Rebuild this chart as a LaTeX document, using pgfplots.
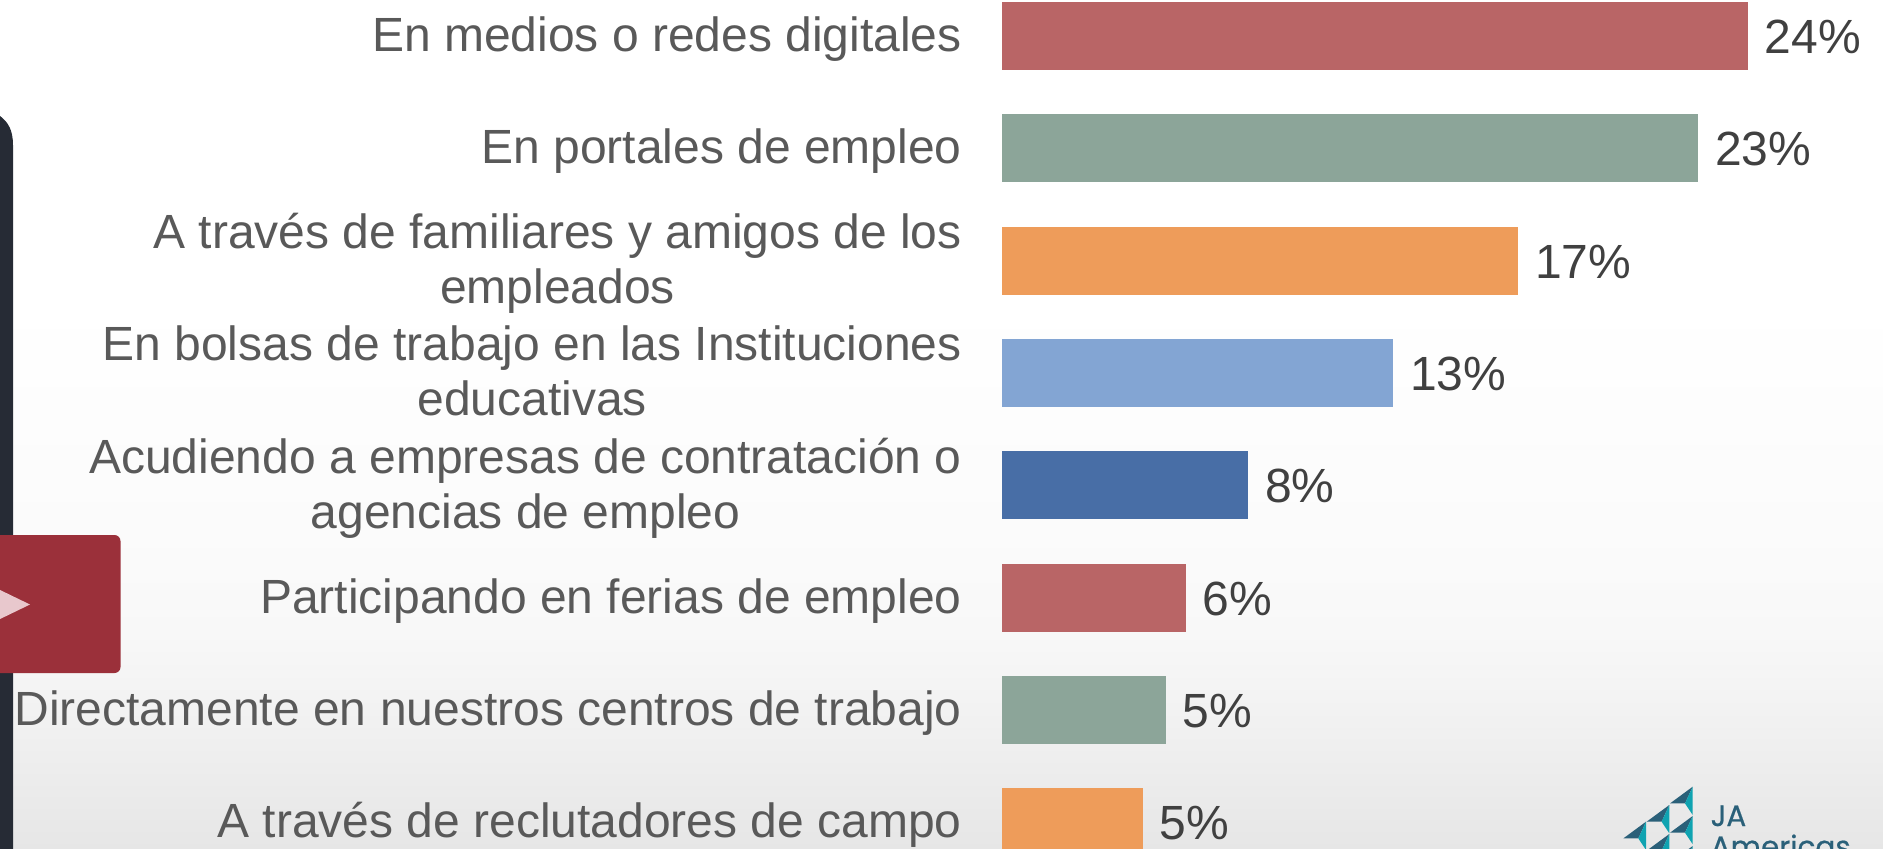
\documentclass[border=0pt]{standalone}
\usepackage{pgfplots}
\pgfplotsset{compat=1.18}
\usepackage{fontspec}
\setmainfont{Liberation Sans}
\newfontfamily\logofont[FakeBold=0.6]{Poppins}
\definecolor{labelgray}{HTML}{595959}
\definecolor{valgray}{HTML}{404040}
\definecolor{cred}{HTML}{B96566}
\definecolor{cgreen}{HTML}{8CA599}
\definecolor{corange}{HTML}{EE9C5A}
\definecolor{clblue}{HTML}{83A5D3}
\definecolor{cdblue}{HTML}{486EA6}
\definecolor{panel}{HTML}{262B35}
\definecolor{boxred}{HTML}{9B303A}
\definecolor{tipc}{HTML}{E8C8CD}
\definecolor{logod}{HTML}{2A6079}
\definecolor{logot}{HTML}{0FA3B1}
\definecolor{bga}{HTML}{FFFFFF}
\definecolor{bgb}{HTML}{FBFBFB}
\definecolor{bgc}{HTML}{F8F8F8}
\definecolor{bgd}{HTML}{F0F0F0}
\definecolor{bge}{HTML}{E6E6E6}
\newcommand\tri[2]{%
 \fill[logod] (#1-22.7,#2+16.7)--(#1,#2)--(#1-7.7,#2+16.7)--cycle;
 \fill[logot] (#1,#2)--(#1,#2+28.3)--(#1-7.7,#2+16.7)--cycle;}
\begin{document}
\begin{tikzpicture}[x=1pt,y=-1pt]
\path[use as bounding box] (0,0) rectangle (1883,849);
\clip (0,0) rectangle (1883,849);
\fill[white] (0,0) rectangle (1883,301);
\shade[top color=bga,bottom color=bgb] (0,300) rectangle (1883,531);
\shade[top color=bgb,bottom color=bgc] (0,530) rectangle (1883,634);
\shade[top color=bgc,bottom color=bgd] (0,633) rectangle (1883,734);
\shade[top color=bgd,bottom color=bge] (0,733) rectangle (1883,849);
\fill[panel] (-20,114) -- (0,116) .. controls (8,122) and (13,130) .. (13,145) -- (13,860) -- (-20,860) -- cycle;
\fill[boxred,rounded corners=6pt] (-30,535) rectangle (120.5,673);
\fill[tipc] (-2,589) -- (30,604.5) -- (-2,620) -- cycle;
\tri{1692.7}{786.7}\tri{1669.3}{805}\tri{1646}{821.7}\tri{1692.7}{816}\tri{1669.3}{834}\tri{1692.7}{846}
\node[anchor=base west,inner sep=0pt,text=logod,font=\logofont\fontsize{29.5}{30}\selectfont] at (1710.5,826) {JA};
\node[anchor=base west,inner sep=0pt,text=logod,font=\logofont\fontsize{29.5}{30}\selectfont] at (1710.5,857) {Americas};
\begin{axis}[
  at={(1002pt,-849pt)},anchor=south west,
  scale only axis,width=881pt,height=849pt,
  xmin=0,xmax=28.885,
  ymin=-0.3186,ymax=7.238,y dir=reverse,
  axis x line=none,
  axis y line=left,
  axis line style={draw=none},
  major tick length=0pt,
  xbar,bar width=68pt,bar shift=0pt,
  ytick={0,1,2,3,4,5,6,7},
  yticklabels={
    {\strut En medios o redes digitales},
    {\strut En portales de empleo},
    {\strut A través de familiares y amigos de los\\\strut empleados},
    {\strut En bolsas de trabajo en las Instituciones\\\strut educativas},
    {\strut Acudiendo a empresas de contratación o\\\strut agencias de empleo},
    {\strut Participando en ferias de empleo},
    {\strut Directamente en nuestros centros de trabajo},
    {\strut A través de reclutadores de campo}},
  yticklabel style={align=center,anchor=east,xshift=-40pt,yshift=-4.5pt,inner sep=0pt,text=labelgray,
     font=\fontsize{48}{55}\selectfont},
  point meta=explicit symbolic,
  nodes near coords,
  nodes near coords style={anchor=west,inner sep=0pt,xshift=16.8pt,yshift=-1pt,text=valgray,
     font=\fontsize{48}{55}\selectfont},
  every axis plot/.append style={draw=none},
]
\addplot[fill=cred] coordinates {(24.45,0)[24\%]};
\addplot[fill=cgreen] coordinates {(22.82,1)[23\%]};
\addplot[fill=corange] coordinates {(16.92,2)[17\%]};
\addplot[fill=clblue] coordinates {(12.82,3)[13\%]};
\addplot[fill=cdblue] coordinates {(8.07,4)[8\%]};
\addplot[fill=cred] coordinates {(6.03,5)[6\%]};
\addplot[fill=cgreen] coordinates {(5.37,6)[5\%]};
\addplot[fill=corange] coordinates {(4.62,7)[5\%]};
\end{axis}
\end{tikzpicture}
\end{document}
